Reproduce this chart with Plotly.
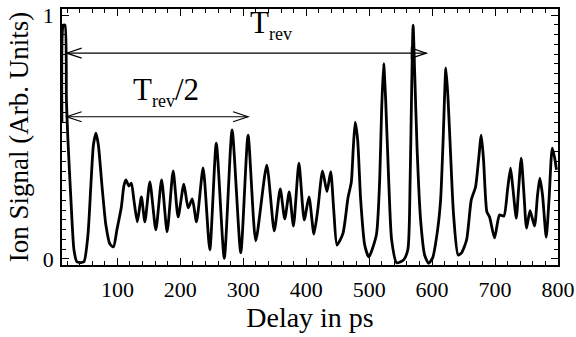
import plotly.graph_objects as go

# ---- data ----
delay_ps = [11.9, 14.3, 16.7, 19.0, 21.4, 26.2, 31.0, 35.7, 40.5, 46.8, 53.2, 57.9, 61.9, 65.9, 69.8,
            75.4, 81.7, 88.1, 93.7, 99.2, 106.3, 110.3, 113.5, 118.3, 122.2, 126.2, 131.7, 138.1,
            143.7, 151.6, 161.1, 170.2, 179.0, 188.6, 196.5, 205.6, 212.4, 219.0, 225.7, 236.2,
            246.8, 257.1, 269.8, 282.2, 296.0, 307.6, 319.8, 337.3, 349.2, 358.7, 365.9, 373.0,
            379.7, 388.4, 396.8, 404.4, 412.2, 418.3, 425.9, 433.0, 438.9, 443.7, 448.9, 458.4,
            466.3, 471.7, 474.6, 477.8, 481.7, 486.5, 492.9, 499.5, 511.4, 516.7, 519.8, 523.0,
            526.2, 531.0, 535.7, 543.7, 554.8, 561.6, 565.1, 567.5, 569.8, 572.2, 576.2, 581.7,
            588.1, 594.4, 600.8, 608.7, 613.5, 617.5, 621.9, 625.4, 629.4, 634.1, 641.3, 646.8,
            654.8, 662.2, 669.0, 673.8, 678.1, 681.7, 687.0, 691.3, 699.2, 707.1, 714.0, 719.8,
            724.6, 728.6, 733.7, 737.3, 741.6, 746.0, 750.0, 755.6, 762.7, 767.5, 771.1, 775.4,
            781.3, 785.7, 790.8, 794.4, 797.6]
ion_signal = [0.557, 0.959, 0.959, 0.652, 0.488, 0.242, 0.037, -0.012, -0.015, -0.012, 0.098, 0.303,
              0.467, 0.516, 0.467, 0.303, 0.139, 0.061, 0.049, 0.119, 0.213, 0.299, 0.324, 0.299,
              0.311, 0.242, 0.152, 0.254, 0.152, 0.316, 0.119, 0.324, 0.111, 0.361, 0.172, 0.307,
              0.209, 0.246, 0.152, 0.373, 0.037, 0.475, 0.002, 0.529, 0.025, 0.508, 0.074, 0.385,
              0.115, 0.287, 0.164, 0.275, 0.135, 0.393, 0.160, 0.254, 0.102, 0.201, 0.361, 0.276,
              0.358, 0.201, 0.057, 0.105, 0.250, 0.316, 0.447, 0.561, 0.488, 0.242, 0.057, 0.008,
              0.098, 0.324, 0.611, 0.801, 0.652, 0.324, 0.078, -0.016, -0.004, 0.041, 0.324, 0.693,
              0.959, 0.775, 0.447, 0.160, 0.016, -0.018, 0.004, 0.119, 0.242, 0.488, 0.783, 0.652,
              0.426, 0.180, 0.016, 0.025, 0.078, 0.242, 0.295, 0.406, 0.508, 0.406, 0.193, 0.172,
              0.086, 0.180, 0.176, 0.283, 0.372, 0.283, 0.167, 0.283, 0.413, 0.262, 0.126, 0.198,
              0.135, 0.262, 0.331, 0.262, 0.089, 0.242, 0.454, 0.418, 0.365]

x_ticks = [100, 200, 300, 400, 500, 600, 700, 800]
x_tick_labels = ["100", "200", "300", "400", "500", "600", "700", "800"]
y_ticks = [0, 1]
y_tick_labels = ["0", "1"]

# arrows: (start, end, y)
t_rev_arrow = (19.4, 590.8, 0.844)
t_half_arrow = (19.4, 307.6, 0.583)

FONT = "Liberation Serif"
X_RANGE = [12, 800]
Y_RANGE = [-0.025, 1.025]
ML, MR, MT, MB = 62, 18, 9, 72
PLOT_W = 576 - ML - MR
PLOT_H = 337 - MT - MB

fig = go.Figure()
fig.add_trace(go.Scatter(x=delay_ps, y=ion_signal, mode="lines",
                         line=dict(color="black", width=2.8, shape="spline", smoothing=0.6),
                         showlegend=False, hoverinfo="skip", cliponaxis=True))

# arrow heads sizes in data units
px_x = (X_RANGE[1] - X_RANGE[0]) / PLOT_W
px_y = (Y_RANGE[1] - Y_RANGE[0]) / PLOT_H
head_len = 15 * px_x
head_half = 5 * px_y


def arrow_shapes(x0, x1, y, closed_right=False):
    shp = [dict(type="line", x0=x0, x1=x1, y0=y, y1=y, line=dict(color="black", width=1.2))]
    shp.append(dict(type="path",
                    path=f"M {x0 + head_len} {y + head_half} L {x0} {y} L {x0 + head_len} {y - head_half}",
                    line=dict(color="black", width=1.2)))
    p = f"M {x1 - head_len} {y + head_half} L {x1} {y} L {x1 - head_len} {y - head_half}"
    if closed_right:
        p += " Z"
    shp.append(dict(type="path", path=p, line=dict(color="black", width=1.2)))
    return shp


shapes = arrow_shapes(*t_rev_arrow, closed_right=True) + arrow_shapes(*t_half_arrow)

SUB = '<sub><span style="font-size:18px">rev</span></sub>'
annotations = [
    dict(x=308, y=0.962, xref="x", yref="y", text="T" + SUB, showarrow=False,
         xanchor="left", yanchor="middle", font=dict(family=FONT, size=31, color="black")),
    dict(x=122, y=0.687, xref="x", yref="y", text="T" + SUB + "/2", showarrow=False,
         xanchor="left", yanchor="middle", font=dict(family=FONT, size=31, color="black")),
]

fig.update_layout(
    width=576, height=337,
    margin=dict(l=ML, r=MR, t=MT, b=MB, autoexpand=False),
    paper_bgcolor="white", plot_bgcolor="white",
    shapes=shapes, annotations=annotations,
    font=dict(family=FONT, color="black"),
)
fig.update_xaxes(range=X_RANGE, tickvals=x_ticks, ticktext=x_tick_labels, automargin=False,
                 ticks="inside", ticklen=7, tickwidth=1.2, tickcolor="black",
                 minor=dict(dtick=20, tick0=0, ticks="inside", ticklen=4, tickwidth=1, tickcolor="black"),
                 showline=True, linewidth=1.5, linecolor="black", mirror="allticks",
                 showgrid=False, zeroline=False,
                 tickfont=dict(family=FONT, size=22, color="black"), ticklabelstandoff=4,
                 title=dict(text="Delay in ps", font=dict(family=FONT, size=28, color="black"), standoff=0))
fig.update_yaxes(range=Y_RANGE, tickvals=y_ticks, ticktext=y_tick_labels, automargin=False,
                 ticks="inside", ticklen=7, tickwidth=1.2, tickcolor="black",
                 minor=dict(dtick=0.04, tick0=0, ticks="inside", ticklen=4, tickwidth=1, tickcolor="black"),
                 showline=True, linewidth=1.5, linecolor="black", mirror="allticks",
                 showgrid=False, zeroline=False,
                 tickfont=dict(family=FONT, size=22, color="black"), ticklabelstandoff=2,
                 title=dict(text="Ion Signal (Arb. Units)", font=dict(family=FONT, size=27, color="black"), standoff=6))

fig.write_html("out.html", config={"displayModeBar": False},
               post_script="document.body.style.margin='0px';")
